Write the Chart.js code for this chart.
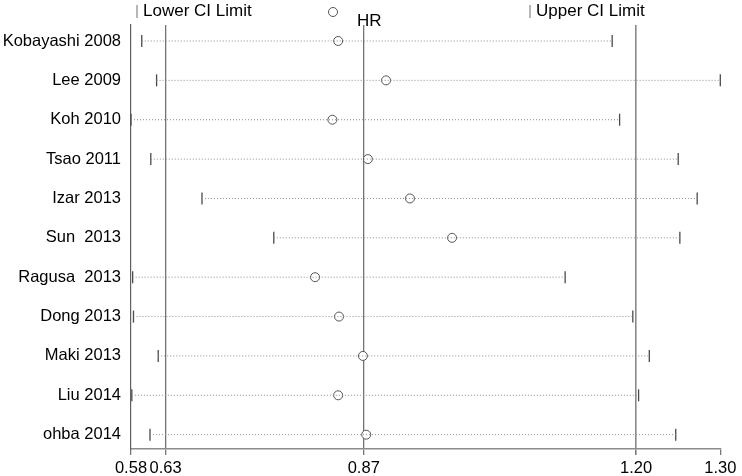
<!DOCTYPE html>
<html>
<head>
<meta charset="utf-8">
<script src="https://cdn.jsdelivr.net/npm/chart.js@4.4.0/dist/chart.umd.min.js"></script>
<style>
    body { margin: 0; background: #fff; }
</style>
</head>
<body>
<canvas id="infChart" width="742" height="476"></canvas>
<script>
// studies omitted one at a time, with the pooled HR and its CI
const studies = ['Kobayashi 2008', 'Lee 2009', 'Koh 2010', 'Tsao 2011', 'Izar 2013', 'Sun  2013',
    'Ragusa  2013', 'Dong 2013', 'Maki 2013', 'Liu 2014', 'ohba 2014'];
const lowerCI = [0.601, 0.619, 0.588, 0.612, 0.674, 0.761, 0.590, 0.591, 0.621, 0.589, 0.611];
const hr = [0.839, 0.897, 0.832, 0.875, 0.926, 0.977, 0.811, 0.840, 0.869, 0.839, 0.873];
const upperCI = [1.171, 1.302, 1.180, 1.251, 1.274, 1.253, 1.114, 1.196, 1.216, 1.203, 1.248];

const xTickValues = [0.588, 0.63, 0.87, 1.20, 1.302];
const xTickLabels = ['0.58', '0.63', '0.87', '1.20', '1.30'];
const legendLabels = ['Lower CI Limit', 'HR', 'Upper CI Limit'];

const FONT = "'Liberation Sans', Arial, sans-serif";

// dotted segment from lower to upper limit, rows split by null
var ciLine = [];
for (var i = 0; i < studies.length; i++) {
    ciLine.push({ x: lowerCI[i], y: i + 1 });
    ciLine.push({ x: upperCI[i], y: i + 1 });
    ciLine.push({ x: null, y: null });
}

// legend like stata's: bar, circle, bar
const legendPlugin = {
    id: 'stataLegend',
    afterDraw(chart) {
        const ctx = chart.ctx;
        ctx.save();
        ctx.font = '17px ' + FONT;
        ctx.fillStyle = '#000';
        ctx.textBaseline = 'middle';
        ctx.strokeStyle = '#888';
        ctx.lineWidth = 1.2;

        ctx.beginPath();
        ctx.moveTo(137, 5);
        ctx.lineTo(137, 18);
        ctx.stroke();
        ctx.fillText(legendLabels[0], 143, 11);

        ctx.strokeStyle = '#555';
        ctx.lineWidth = 1;
        ctx.beginPath();
        ctx.arc(333, 12, 4.5, 0, Math.PI * 2);
        ctx.stroke();
        ctx.fillText(legendLabels[1], 357, 21);

        ctx.strokeStyle = '#888';
        ctx.lineWidth = 1.2;
        ctx.beginPath();
        ctx.moveTo(530, 5);
        ctx.lineTo(530, 18);
        ctx.stroke();
        ctx.fillText(legendLabels[2], 536, 11);
        ctx.restore();
    }
};

var ctx = document.getElementById('infChart').getContext('2d');
var chart = new Chart(ctx, {
    type: 'scatter',
    data: {
        datasets: [{
            type: 'line',
            label: 'CI',
            data: ciLine,
            borderColor: '#8c8c8c',
            borderWidth: 1,
            borderDash: [1, 2],
            pointRadius: 0,
            spanGaps: false,
            clip: false
        }, {
            label: legendLabels[0],
            data: lowerCI.map((v, i) => ({ x: v, y: i + 1 })),
            pointStyle: 'line',
            rotation: 90,
            radius: 6,
            borderColor: '#4a4a4a',
            borderWidth: 1.3,
            clip: false
        }, {
            label: legendLabels[2],
            data: upperCI.map((v, i) => ({ x: v, y: i + 1 })),
            pointStyle: 'line',
            rotation: 90,
            radius: 6,
            borderColor: '#4a4a4a',
            borderWidth: 1.3,
            clip: false
        }, {
            label: legendLabels[1],
            data: hr.map((v, i) => ({ x: v, y: i + 1 })),
            pointStyle: 'circle',
            radius: 4.5,
            backgroundColor: '#fff',
            borderColor: '#555',
            borderWidth: 1,
            clip: false
        }]
    },
    options: {
        responsive: false,
        animation: false,
        layout: { padding: { top: 25, right: 21.7, left: 0, bottom: 0 } },
        plugins: {
            legend: { display: false },
            tooltip: { enabled: false }
        },
        scales: {
            x: {
                type: 'linear',
                min: xTickValues[0],
                max: xTickValues[xTickValues.length - 1],
                afterBuildTicks: function (scale) {
                    scale.ticks = xTickValues.map(v => ({ value: v }));
                },
                afterFit: function (scale) {
                    scale.height = 27;
                },
                ticks: {
                    autoSkip: false,
                    maxRotation: 0,
                    padding: 4,
                    color: '#000',
                    font: { family: FONT, size: 16.5 },
                    callback: function (value, index) {
                        return xTickLabels[index];
                    }
                },
                grid: {
                    // vertical lines at pooled lower limit, HR and upper limit
                    color: function (c) {
                        if (c.index === 0 || c.index === xTickValues.length - 1) return 'rgba(0,0,0,0)';
                        return c.index === 3 ? '#8a8a8a' : '#747474';
                    },
                    lineWidth: function (c) {
                        return c.index === 3 ? 1.6 : 1.3;
                    },
                    tickColor: '#777',
                    tickLength: 6
                },
                border: { color: '#8c8c8c', width: 1.5 }
            },
            y: {
                type: 'linear',
                reverse: true,
                min: 0.594,
                max: 11.364,
                afterBuildTicks: function (scale) {
                    scale.ticks = studies.map((s, i) => ({ value: i + 1 }));
                },
                afterFit: function (scale) {
                    scale.width = 131;
                },
                ticks: {
                    padding: 10,
                    color: '#000',
                    font: { family: FONT, size: 16.5 },
                    callback: function (value) {
                        return studies[value - 1];
                    }
                },
                grid: { display: false, drawTicks: false },
                border: { color: '#606060', width: 1.2 }
            }
        }
    },
    plugins: [legendPlugin]
});
</script>
</body>
</html>
